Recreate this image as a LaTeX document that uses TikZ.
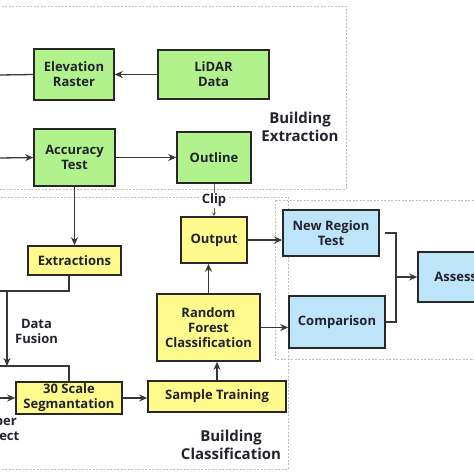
\documentclass[tikz,border=0pt]{standalone}
\usepackage{fontspec}
\setmainfont{Open Sans}
\usetikzlibrary{arrows.meta}
\definecolor{gfill}{RGB}{178,242,140}
\definecolor{yfill}{RGB}{255,250,140}
\definecolor{bfill}{RGB}{190,228,250}
\definecolor{boxline}{RGB}{40,40,40}
\definecolor{arrc}{RGB}{55,55,55}
\definecolor{regc}{RGB}{190,190,190}
\definecolor{txt}{RGB}{35,35,45}
\begin{document}
\begin{tikzpicture}[x=1pt,y=-1pt,
  box/.style={draw=boxline, line width=1.6pt, align=center, font=\bfseries\fontsize{13}{15}\selectfont, text=txt, inner sep=0pt},
  gbox/.style={box, fill=gfill},
  ybox/.style={box, fill=yfill},
  bbox/.style={box, fill=bfill},
  arr/.style={draw=arrc, line width=1.3pt, -{Stealth[length=8pt,width=7pt]}},
  ln/.style={draw=arrc, line width=1.3pt},
  cliparr/.style={draw=arrc!80, line width=0.8pt, -{Stealth[length=4pt,width=4pt]}},
  region/.style={draw=regc, line width=0.8pt, dash pattern=on 2pt off 1.5pt},
  lbl/.style={font=\bfseries\fontsize{15}{18}\selectfont, text=txt, align=center},
  small/.style={font=\bfseries\fontsize{13}{15}\selectfont, text=txt, align=center}]
\useasboundingbox (0,0) rectangle (474,474);
\fill[white] (0,0) rectangle (474,474);
\clip (0,0) rectangle (474,474);

% regions
\draw[region] (-10,6) rectangle (346,189);
\draw[region] (-10,197) rectangle (288,469);
\draw[region] (275,200) rectangle (490,359);

% boxes
\node[gbox, minimum width=80pt, minimum height=51pt] (elev) at (74,74.5) {Elevation\\Raster};
\node[gbox, minimum width=111pt, minimum height=49pt] (lidar) at (213.5,74.5) {LiDAR\\Data};
\node[gbox, minimum width=81pt, minimum height=57pt] (acc) at (74.5,157.5) {Accuracy\\Test};
\node[gbox, minimum width=74pt, minimum height=51pt] (outline) at (214,157.5) {Outline};
\node[ybox, minimum width=93pt, minimum height=29pt] (extr) at (74.5,260.5) {Extractions};
\node[ybox, minimum width=106pt, minimum height=32pt] (seg) at (69,398) {30 Scale\\Segmantation};
\node[ybox, minimum width=138pt, minimum height=31pt] (sample) at (217,396.5) {Sample Training};
\node[ybox, minimum width=103pt, minimum height=67pt] (rf) at (208.5,327.5) {Random\\Forest\\Classification};
\node[ybox, minimum width=66pt, minimum height=46pt] (output) at (214,240) {Output};
\node[bbox, minimum width=96pt, minimum height=46pt] (nrt) at (331,233) {New Region\\Test};
\node[bbox, minimum width=96pt, minimum height=52pt] (comp) at (337,322) {Comparison};
\node[bbox, minimum width=110pt, minimum height=50pt] (assess) at (473,277) {Assessment};

% labels
\node[lbl] (lblext) at (300,127) {Building\\Extraction};
\node[lbl] (lblcls) at (231,445) {Building\\Classification};
\node[small] (fusion) at (36.5,331) {Data\\Fusion};
\node[small] (superobj) at (-2,430) {Super\\Object};

% coordinates for free ends
\coordinate (inA) at (0,75);
\coordinate (inB) at (0,158);
\coordinate (inC) at (0,398);
\coordinate (f1) at (0,291);
\coordinate (f2) at (0,366);
\coordinate (d1) at (7,291);
\coordinate (d2) at (7,366);
\coordinate (br) at (396,277);

% connectors
\draw[ln] (elev.west) -- (inA);
\draw[arr] (lidar.west) -- (elev.east);
\draw[arr] (inB) -- (acc.west);
\draw[arr] (acc.east) -- (outline.west |- acc.east);
\draw[arr] (acc.south) -- (extr.north);
\draw[ln] (extr.south -| seg.north) |- (f1);
\draw[arr] (d1) -- (d2);
\draw[ln] (f2) -| (seg.north);
\draw[arr] (inC) -- (seg.west);
\draw[arr] (seg.east) -- (sample.west |- seg.east);
\draw[arr] (sample.north) -- (sample.north |- rf.south);
\draw[arr] (rf.north) -- (rf.north |- output.south);
\draw[cliparr] (outline.south) -- (output.north) node[midway, fill=white, inner sep=1pt, small] (cliplbl) {Clip};
\draw[arr] (output.east) -- (nrt.west |- output.east);
\draw[arr] (rf.east) -- (comp.west |- rf.east);
\draw[ln] ([xshift=5pt]nrt.east) -| (br) |- (comp.east);
\draw[arr] (br) -- (br -| assess.west);
\end{tikzpicture}
\end{document}
